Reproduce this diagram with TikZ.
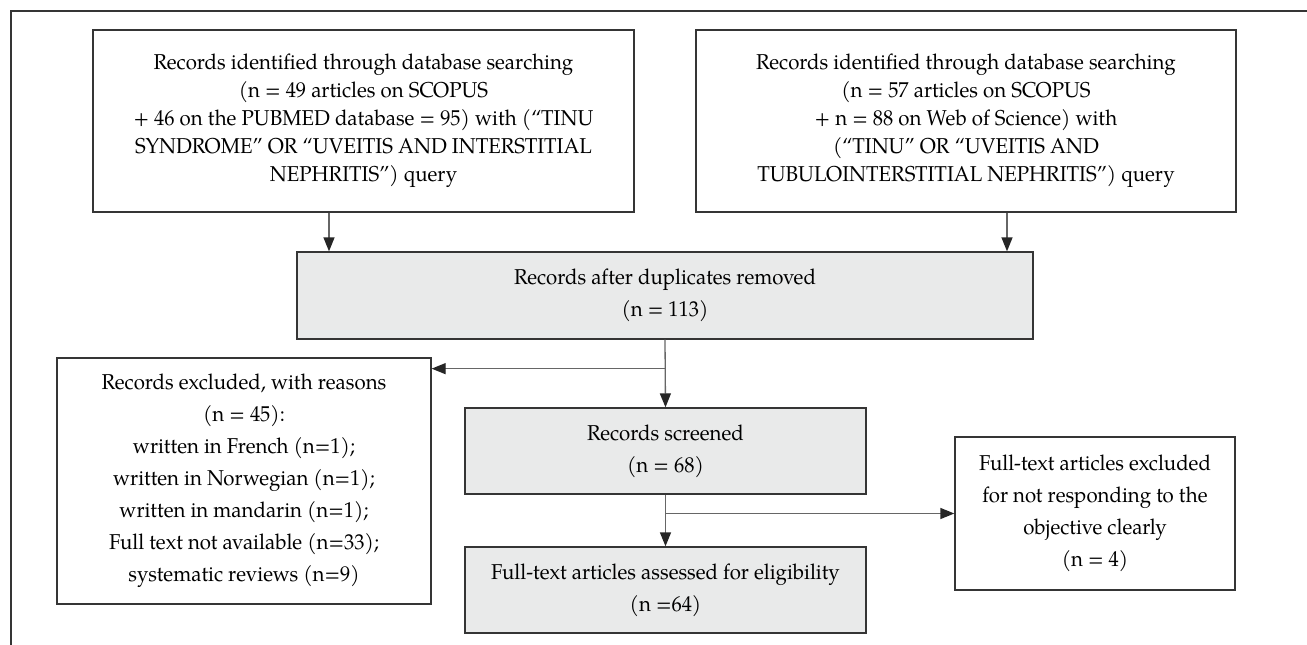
\documentclass[tikz,border=0pt]{standalone}
\usepackage{fontspec}
\setmainfont{TeX Gyre Pagella}[FakeStretch=0.95]
\usetikzlibrary{arrows.meta,calc}
\definecolor{boxline}{HTML}{353535}
\definecolor{conn}{HTML}{666666}
\definecolor{grayfill}{HTML}{E9EAEA}
\begin{document}
\begin{tikzpicture}[x=1pt,y=-1pt,
  box/.style={draw=boxline,line width=1.3pt,rectangle,inner sep=0pt,align=center,
    font=\fontsize{21.5}{32}\selectfont},
  topbox/.style={box,font=\fontsize{21.5}{28}\selectfont},
  graybox/.style={box,fill=grayfill},
  arr/.style={draw=conn,line width=1.3pt,-{Triangle[length=14pt,width=11pt,fill=black!85,color=black!85]}},
  frame/.style={draw=boxline,line width=1.3pt}]
\useasboundingbox (0,0) rectangle (1307,645);
\coordinate (ftl) at (11,11);
\coordinate (ftr) at (1307,11);
\coordinate (fbl) at (11,645);
\draw[frame] (fbl) -- (ftl) -- (ftr);

\node[topbox,minimum width=541pt,minimum height=182pt] (b1) at (363.5,121)
  {Records identified through database searching\\(n = 49 articles on SCOPUS\\+ 46 on the PUBMED database = 95) with (“TINU\\SYNDROME” OR “UVEITIS AND INTERSTITIAL\\NEPHRITIS”) query};
\node[topbox,minimum width=540pt,minimum height=182pt] (b2) at (966,121)
  {Records identified through database searching\\(n = 57 articles on SCOPUS\\+ n = 88 on Web of Science) with\\(“TINU” OR “UVEITIS AND\\TUBULOINTERSTITIAL NEPHRITIS”) query};
\node[graybox,minimum width=736pt,minimum height=87pt] (b3) at (665,295.5)
  {Records after duplicates removed\\(n = 113)};
\node[box,minimum width=374pt,minimum height=246pt] (ex) at (244,481)
  {Records excluded, with reasons\\(n = 45):\\written in French (n=1);\\written in Norwegian (n=1);\\written in mandarin (n=1);\\Full text not available (n=33);\\systematic reviews (n=9)};
\node[graybox,minimum width=401pt,minimum height=86pt] (sc) at (665.5,451)
  {Records screened\\(n = 68)};
\node[graybox,minimum width=401pt,minimum height=86pt] (as) at (665.5,590)
  {Full-text articles assessed for eligibility\\(n =64)};
\node[box,minimum width=280pt,minimum height=153pt] (fx) at (1095,513.5)
  {Full-text articles excluded\\for not responding to the\\objective clearly\\(n = 4)};

\draw[arr] ([xshift=-34.5pt]b1.south) -- ([xshift=-34.5pt]b1.south |- b3.north);
\draw[arr] ([xshift=41pt]b2.south) -- ([xshift=41pt]b2.south |- b3.north);
\draw[arr] (b3.south) -- (sc.north);
\coordinate (j1) at ($(b3.south)+(0,29)$);
\draw[arr] (j1) -- (j1 -| ex.east);
\draw[arr] (sc.south) -- (as.north);
\coordinate (j2) at (sc.south |- fx.west);
\draw[arr] (j2) -- (fx.west);
\end{tikzpicture}
\end{document}
